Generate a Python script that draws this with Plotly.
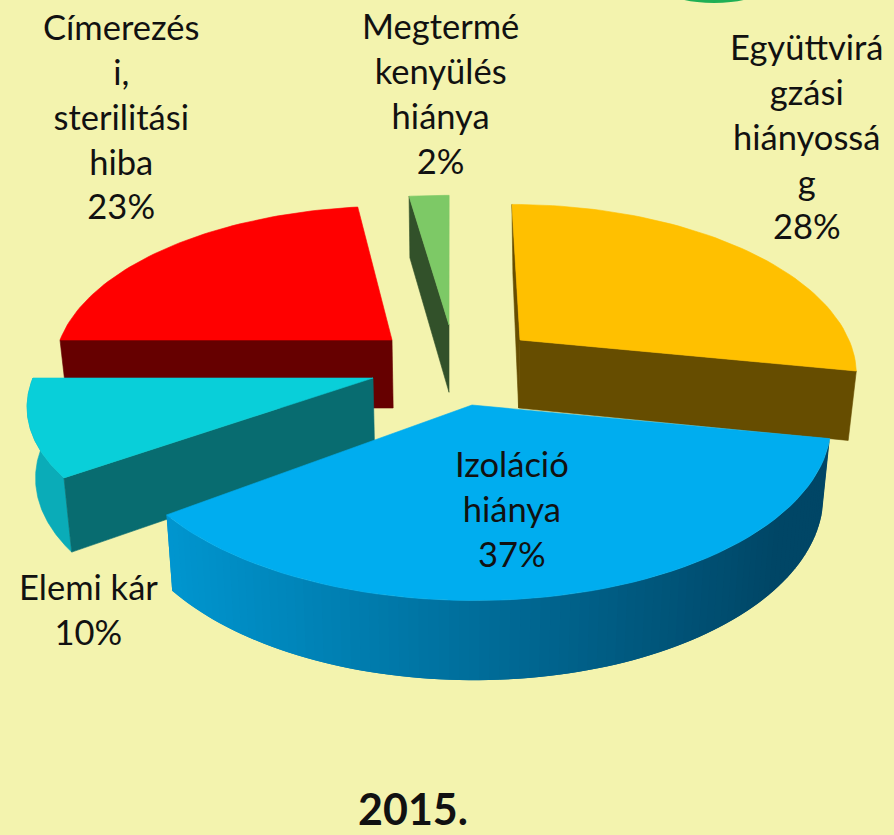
import math
import plotly.graph_objects as go

# ---- data ----
labels = ["Együttvirá<br>gzási<br>hiányossá<br>g", "Izoláció<br>hiánya", "Elemi kár",
          "Címerezés<br>i,<br>sterilitási<br>hiba", "Megtermé<br>kenyülés<br>hiánya"]
values = [28, 37, 10, 23, 2]
title_text = "2015."

# ---- styling / layout ----
BG = "#F3F3AE"
tops = ["#FFC000", "#00ADEF", "#09CFD9", "#FF0000", "#7DC966"]
walls = ["#664D00", "#004A6B", "#086C70", "#660000", "#32512A"]
# per-slice projection: tip x, tip y, semi-axis x, semi-axis y, perspective, vanishing x
proj = [(520, 340, 329, 160, 0.18, 467),
        (472, 405, 357, 176, 0.10, 450),
        (373, 378, 340, 154, 0.16, 425),
        (392, 340, 332, 158, 0.18, 399),
        (449, 325, 377, 153, 0.18, 450)]
label_pos = [(806, 136), (512, 508), (88, 608.5), (121, 116), (440, 93)]
VX = 450


def top_pt(i, deg):
    tx, ty, a, b, k, vx = proj[i]
    s, c = math.sin(math.radians(deg)), math.cos(math.radians(deg))
    w = 1 + k * c
    return vx + (tx - vx + a * s) / w, ty - b * c / w


def low_pt(p):
    x, y = p
    return VX + (x - VX) * 0.98, y + 68 + 0.045 * (y - 340)


def poly(fig, pts, color, lw=0.6):
    xs = [p[0] for p in pts] + [pts[0][0]]
    ys = [p[1] for p in pts] + [pts[0][1]]
    fig.add_trace(go.Scatter(x=xs, y=ys, mode="lines", fill="toself", fillcolor=color,
                             line=dict(color=color, width=lw), hoverinfo="skip", showlegend=False))


def arc(i, a0, a1, n=60):
    return [top_pt(i, a0 + (a1 - a0) * j / n) for j in range(n + 1)]


def mix(t):
    c0, c1 = (0x00, 0x96, 0xD0), (0x00, 0x46, 0x66)
    return "rgb(%d,%d,%d)" % tuple(round(u + (v - u) * t) for u, v in zip(c0, c1))


total = sum(values)
starts, run = [], 0
for v in values:
    starts.append(run / total * 360)
    run += v
ends = [s + v / total * 360 for s, v in zip(starts, values)]

fig = go.Figure()


def tip(i):
    return proj[i][0], proj[i][1]


def radial_wall(i, deg):
    e = top_pt(i, deg)
    poly(fig, [tip(i), e, low_pt(e), low_pt(tip(i))], walls[i])


def top_face(i):
    poly(fig, [tip(i)] + arc(i, starts[i], ends[i]), tops[i])


# green
radial_wall(4, starts[4]); top_face(4)
# red
radial_wall(3, 270); top_face(3)
# orange
radial_wall(0, ends[0])
poly(fig, [top_pt(0, 0), tip(0), low_pt(tip(0)), (top_pt(0, 0)[0] + 1, top_pt(0, 0)[1] + 70)], walls[0])
top_face(0)
# cyan
a = arc(2, starts[2], ends[2])
poly(fig, a + [low_pt(p) for p in reversed(a)], "#0AACB8")
radial_wall(2, starts[2]); top_face(2)
# blue outer wall, shaded across its width; each quad overlaps the next to avoid seams
a = arc(1, starts[1], ends[1], 90)
xmin, xmax = 165, 780
for j in range(len(a) - 1):
    p = a[j]
    q = a[min(j + 2, len(a) - 1)]
    t = min(1, max(0, ((a[j][0] + a[j + 1][0]) / 2 - xmin) / (xmax - xmin)))
    poly(fig, [p, q, low_pt(q), low_pt(p)], mix(t), lw=0)
top_face(1)

annotations = []
for name, v, (x, y) in zip(labels, values, label_pos):
    annotations.append(dict(x=x, y=y, xref="x", yref="y", text=f"{name}<br>{v}%", showarrow=False,
                            font=dict(family="Lato", size=34.5, color="#111111"),
                            xanchor="center", yanchor="middle", align="center"))
annotations.append(dict(x=413, y=808, xref="x", yref="y", text=title_text, showarrow=False,
                        font=dict(family="Lato", size=43, color="#111111", weight="bold"),
                        xanchor="center", yanchor="middle", valign="middle"))

fig.update_layout(
    width=894, height=835, margin=dict(l=0, r=0, t=0, b=0),
    paper_bgcolor=BG, plot_bgcolor=BG, showlegend=False,
    xaxis=dict(range=[0, 894], visible=False, fixedrange=True),
    yaxis=dict(range=[835, 0], visible=False, fixedrange=True),
    annotations=annotations,
    shapes=[dict(type="circle", xref="x", yref="y", x0=670, x1=758, y0=-20, y1=3,
                 fillcolor="#1FAF55", line=dict(width=0), layer="below")],
)
fig.write_html("out.html", config={"displayModeBar": False},
               post_script="document.body.style.margin='0';document.documentElement.style.overflow='hidden';")
